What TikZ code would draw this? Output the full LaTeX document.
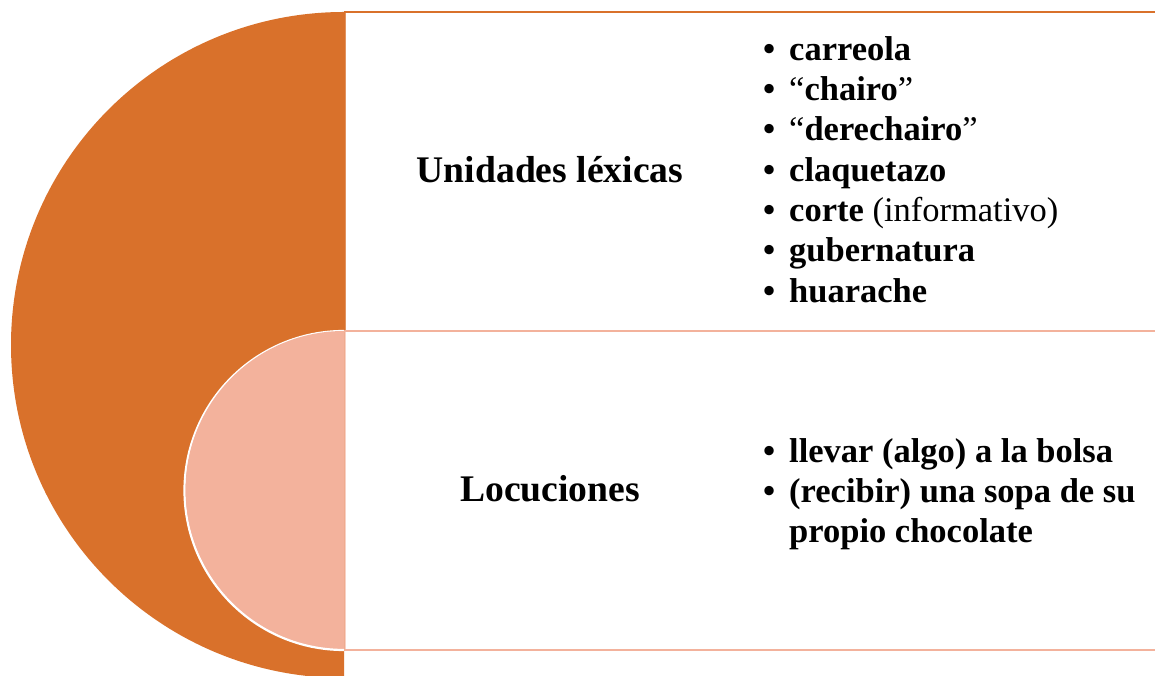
\documentclass[tikz,border=0pt]{standalone}
\usepackage{fontspec}
\setmainfont{Liberation Serif}
\definecolor{orangec}{HTML}{D9712B}
\definecolor{salmonc}{HTML}{F3B29C}
\begin{document}
\begin{tikzpicture}[x=1pt,y=1pt,
  headtext/.style={font=\fontsize{37.6}{40}\selectfont\bfseries, inner sep=0pt, anchor=base},
  itemtext/.style={font=\fontsize{34.5}{40}\selectfont\bfseries, inner sep=0pt, anchor=base west},
  bulletmark/.style={font=\fontsize{34.5}{40}\selectfont\bfseries, inner sep=0pt, anchor=base west},
  ]
\useasboundingbox (0,0) rectangle (1155,676);
\clip (0,0) rectangle (1155,676);
% panels
\filldraw[fill=white, draw=orangec, line width=2pt] (345,664) rectangle (1170,345);
\filldraw[fill=white, draw=salmonc, line width=2pt] (345,345) rectangle (1170,26);
% big half disc
\fill[orangec] (344,664) arc[start angle=90, end angle=270, radius=333] -- cycle;
% small half disc
\filldraw[fill=salmonc, draw=white, line width=2.2pt] (344,345) arc[start angle=90, end angle=270, radius=159.5];
\fill[salmonc] (344,345) arc[start angle=90, end angle=270, radius=158.4] -- cycle;
% vertical separators
\draw[orangec!75!white, line width=1.5pt] (345.5,663) -- (345.5,345);
\draw[salmonc!60!white, line width=1.5pt] (345.5,345) -- (345.5,26);
\draw[salmonc, line width=2pt] (345,345) -- (1170,345);
\draw[salmonc, line width=2pt] (345,26) -- (1170,26);
% headings
\node[headtext] (h1) at (550,493) {Unidades léxicas};
\node[headtext] (h2) at (550,174) {Locuciones};
% top list
\node[bulletmark] (b1) at (763,615) {•};
\node[itemtext] (i1) at (789,615) {carreola};
\node[bulletmark] (b2) at (763,575) {•};
\node[itemtext] (i2) at (789,575) {\mdseries“\bfseries chairo\mdseries”};
\node[bulletmark] (b3) at (763,535) {•};
\node[itemtext] (i3) at (789,535) {\mdseries“\bfseries derechairo\mdseries”};
\node[bulletmark] (b4) at (763,494) {•};
\node[itemtext] (i4) at (789,494) {claquetazo};
\node[bulletmark] (b5) at (763,454) {•};
\node[itemtext] (i5) at (789,454) {corte\mdseries{} (informativo)};
\node[bulletmark] (b6) at (763,414) {•};
\node[itemtext] (i6) at (789,414) {gubernatura};
\node[bulletmark] (b7) at (763,373) {•};
\node[itemtext] (i7) at (789,373) {huarache};
% bottom list
\node[bulletmark] (c1) at (763,213) {•};
\node[itemtext] (j1) at (789,213) {llevar (algo) a la bolsa};
\node[bulletmark] (c2) at (763,173) {•};
\node[itemtext] (j2) at (789,173) {(recibir) una sopa de su};
\node[itemtext] (j3) at (789,133) {propio chocolate};
\end{tikzpicture}
\end{document}
